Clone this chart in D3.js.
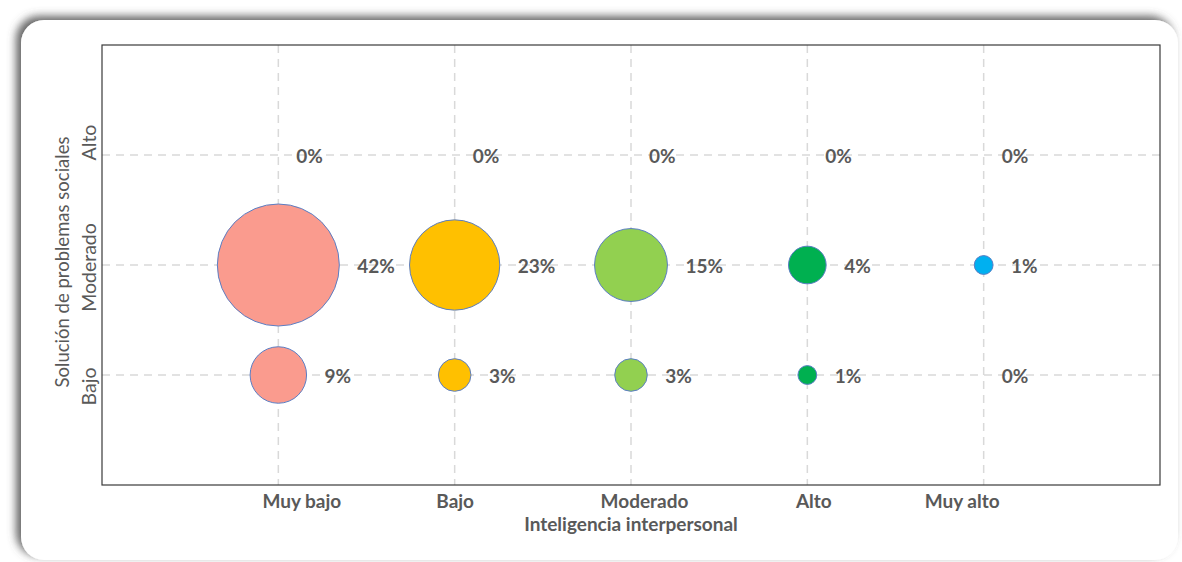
<!DOCTYPE html>
<html>
<head>
<meta charset="utf-8">
<script src="https://cdn.jsdelivr.net/npm/d3@7"></script>
<style>
  html, body { margin: 0; padding: 0; background: #ffffff; }
  svg { display: block; }
</style>
</head>
<body>
<svg id="chart" width="1182" height="562"></svg>
<script>
// ---- Data ----
const xCategories = ["Muy bajo", "Bajo", "Moderado", "Alto", "Muy alto"];
const yCategories = ["Bajo", "Moderado", "Alto"];
const valuesBajo = [9, 3, 3, 1, 0];
const valuesModerado = [42, 23, 15, 4, 1];
const valuesAlto = [0, 0, 0, 0, 0];
const seriesColors = ["#FA9B8E", "#FFC000", "#92D050", "#00B050", "#00B0F0"];
const xTitle = "Inteligencia interpersonal";
const yTitle = "Solución de problemas sociales";

// ---- Layout ----
const W = 1182, H = 562;
const plot = { left: 102, top: 45, right: 1160, bottom: 485 };
const textColor = "#595959";
const font = "Lato, 'Open Sans', sans-serif";
const xLabelShift = [23, 0, 13, 6, -22];
const yLabelShift = [11, 2, -13];

const svg = d3.select("#chart");

// card with shadow
const defs = svg.append("defs");
const f = defs.append("filter").attr("id", "shadow")
  .attr("x", "-5%").attr("y", "-5%").attr("width", "110%").attr("height", "110%");
f.append("feDropShadow").attr("dx", -5).attr("dy", -4).attr("stdDeviation", 4)
  .attr("flood-color", "#555555").attr("flood-opacity", 0.9);

svg.append("rect").attr("x", 21).attr("y", 20).attr("width", 1157).attr("height", 540)
  .attr("rx", 23).attr("ry", 23).attr("fill", "#ffffff").attr("filter", "url(#shadow)");

const x = d3.scalePoint().domain(xCategories).range([plot.left, plot.right]).padding(1);
const y = d3.scalePoint().domain(yCategories).range([plot.bottom, plot.top]).padding(1);
const r = d3.scaleSqrt().domain([0, 42]).range([0, 61]);

// grid
const grid = svg.append("g");
grid.selectAll("line.v").data(xCategories).join("line")
  .attr("x1", d => x(d)).attr("x2", d => x(d))
  .attr("y1", plot.top).attr("y2", plot.bottom)
  .attr("stroke", "#D9D9D9").attr("stroke-width", 1.5).attr("stroke-dasharray", "8,6");
grid.selectAll("line.h").data(yCategories).join("line")
  .attr("x1", plot.left).attr("x2", plot.right)
  .attr("y1", d => y(d)).attr("y2", d => y(d))
  .attr("stroke", "#D9D9D9").attr("stroke-width", 1.5).attr("stroke-dasharray", "8,6");

// plot border
svg.append("rect").attr("x", plot.left).attr("y", plot.top)
  .attr("width", plot.right - plot.left).attr("height", plot.bottom - plot.top)
  .attr("fill", "none").attr("stroke", "#3a3a3a").attr("stroke-width", 1.2);

// points
const rows = [valuesBajo, valuesModerado, valuesAlto];
const points = [];
rows.forEach((vals, ri) => vals.forEach((v, ci) => points.push({
  xc: xCategories[ci], yc: yCategories[ri], v: v, color: seriesColors[ci]
})));

svg.append("g").selectAll("circle").data(points.filter(p => p.v > 0)).join("circle")
  .attr("cx", d => x(d.xc)).attr("cy", d => y(d.yc)).attr("r", d => r(d.v))
  .attr("fill", d => d.color).attr("stroke", "#5B7EC4").attr("stroke-width", 1);

svg.append("g").selectAll("text").data(points).join("text")
  .attr("x", d => x(d.xc) + r(d.v) + 18).attr("y", d => y(d.yc))
  .attr("dominant-baseline", "central")
  .attr("font-family", font).attr("font-weight", "bold").attr("font-size", 19)
  .attr("fill", textColor)
  .text(d => d.v + "%");

// x axis labels
const xAxis = svg.append("g").attr("transform", `translate(0,${plot.bottom})`)
  .call(d3.axisBottom(x).tickSize(0).tickPadding(0));
xAxis.select(".domain").remove();
xAxis.selectAll("text")
  .attr("dx", (d, i) => xLabelShift[i]).attr("y", 23).attr("dy", null)
  .attr("font-family", font).attr("font-weight", "bold").attr("font-size", 19)
  .attr("fill", textColor);

// y axis labels
const yAxis = svg.append("g").attr("transform", `translate(${plot.left},0)`)
  .call(d3.axisLeft(y).tickSize(0).tickPadding(0));
yAxis.select(".domain").remove();
yAxis.selectAll(".tick text")
  .attr("x", 0).attr("y", 0).attr("dy", null)
  .attr("text-anchor", "middle")
  .attr("transform", (d, i) => `translate(-6,${yLabelShift[i]}) rotate(-90)`)
  .attr("font-family", font).attr("font-size", 19.5)
  .attr("fill", textColor);

// titles
svg.append("text").attr("x", 631).attr("y", 531).attr("text-anchor", "middle")
  .attr("font-family", font).attr("font-weight", "bold").attr("font-size", 19)
  .attr("fill", textColor).text(xTitle);
svg.append("text").attr("transform", `translate(69,262) rotate(-90)`)
  .attr("text-anchor", "middle")
  .attr("font-family", font).attr("font-size", 18.5)
  .attr("fill", textColor).text(yTitle);
</script>
</body>
</html>
